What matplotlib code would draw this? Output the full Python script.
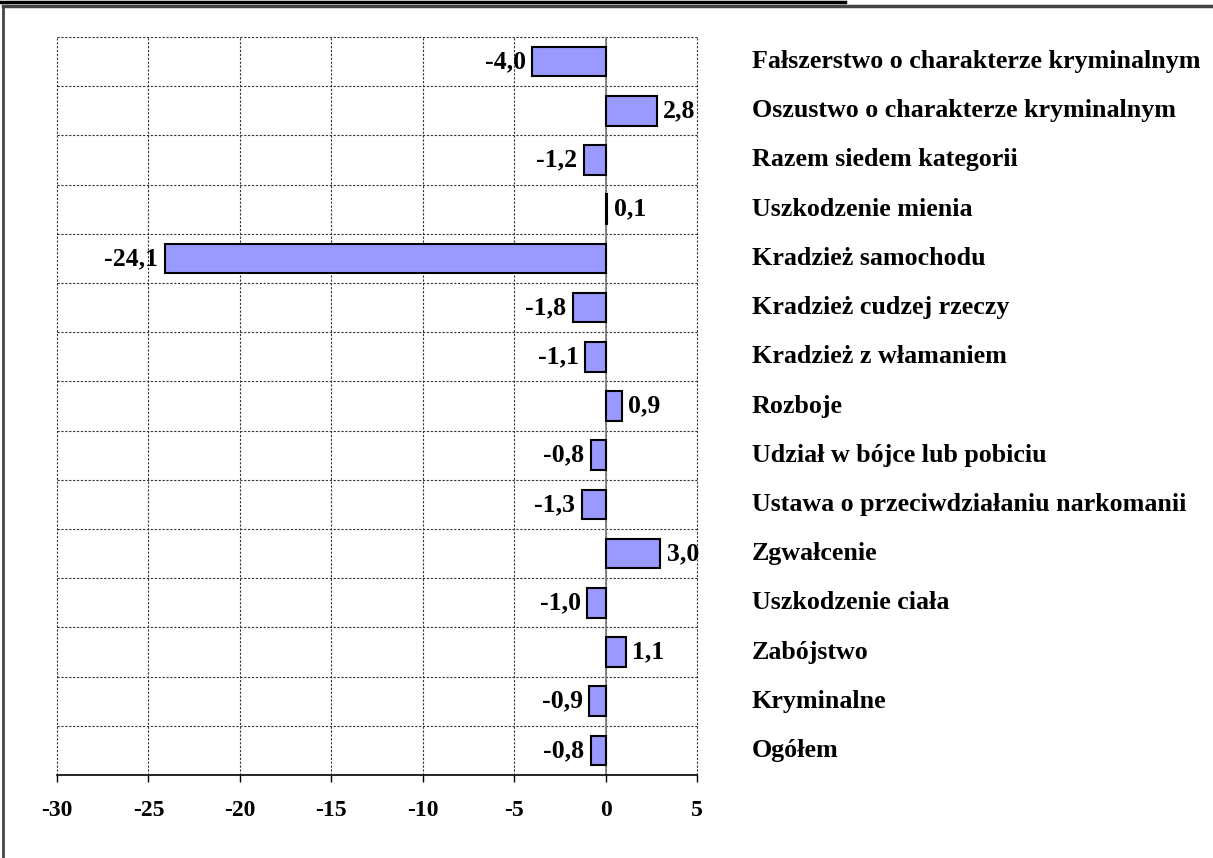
import numpy as np
import matplotlib
matplotlib.use("Agg")
from matplotlib import pyplot as plt
from matplotlib.lines import Line2D
from matplotlib.transforms import blended_transform_factory

plt.rcParams['font.family'] = ['Liberation Serif', 'DejaVu Serif']
plt.rcParams['font.weight'] = 'bold'

# categories, top to bottom
categories = [
    "Fałszerstwo o charakterze kryminalnym",
    "Oszustwo o charakterze kryminalnym",
    "Razem siedem kategorii",
    "Uszkodzenie mienia",
    "Kradzież samochodu",
    "Kradzież cudzej rzeczy",
    "Kradzież z włamaniem",
    "Rozboje",
    "Udział w bójce lub pobiciu",
    "Ustawa o przeciwdziałaniu narkomanii",
    "Zgwałcenie",
    "Uszkodzenie ciała",
    "Zabójstwo",
    "Kryminalne",
    "Ogółem",
]
values = [-4.0, 2.8, -1.2, 0.1, -24.1, -1.8, -1.1, 0.9, -0.8, -1.3, 3.0, -1.0, 1.1, -0.9, -0.8]
xticks = [-30, -25, -20, -15, -10, -5, 0, 5]

W, H = 1213, 858
fig = plt.figure(figsize=(W / 100, H / 100), dpi=100)
ax = fig.add_axes([57 / W, 1 - 775 / H, (697 - 57) / W, (775 - 37) / H])

n = len(categories)
ys = np.arange(n)[::-1]  # first category on top
ax.barh(ys, values, height=0.6, color='#9999FF', edgecolor='black', linewidth=1.5, zorder=3)

ax.set_xlim(-30, 5)
ax.set_ylim(-0.5, n - 0.5)

# grid: dotted lines at every x tick and between categories
ax.set_xticks(xticks)
ax.set_xticklabels([str(t) for t in xticks], fontsize=17, fontweight='bold')
ax.set_yticks([])
ax.tick_params(axis='x', direction='out', length=5, width=1, pad=13)
for t in xticks:
    ax.axvline(t, color='#333333', linestyle=(0, (2, 1.5)), linewidth=0.8, zorder=1, clip_on=False)
for yb in np.arange(1, n + 1) - 0.5:
    ax.axhline(yb, color='#333333', linestyle=(0, (2, 1.5)), linewidth=0.8, zorder=1, clip_on=False)
ax.axvline(0, color='#777777', linewidth=1.2, zorder=2)

for s in ('top', 'left', 'right'):
    ax.spines[s].set_visible(False)
ax.spines['bottom'].set_linewidth(1.2)
ax.spines['bottom'].set_zorder(4)

# value labels
for y, v in zip(ys, values):
    lab = f"{v:.1f}".replace('.', ',')
    if v < 0:
        ax.text(v - 0.35, y, lab, ha='right', va='center', fontsize=18.5, fontweight='bold', zorder=5)
    else:
        ax.text(v + 0.35, y, lab, ha='left', va='center', fontsize=18.5, fontweight='bold', zorder=5)

# category labels on the right
tr = blended_transform_factory(fig.transFigure, ax.transData)
for y, c in zip(ys, categories):
    ax.text(752 / W, y, c, transform=tr, ha='left', va='center', fontsize=18.7, fontweight='bold')

# frame and cut-off title underline
fig.add_artist(Line2D([3 / W, 3 / W], [0, 1 - 6 / H], transform=fig.transFigure, color='#444444', linewidth=2))
fig.add_artist(Line2D([3 / W, 1], [1 - 6 / H, 1 - 6 / H], transform=fig.transFigure, color='#444444', linewidth=2.5))
fig.add_artist(Line2D([0, 845 / W], [1 - 2 / H, 1 - 2 / H], transform=fig.transFigure, color='black', linewidth=2.5))

fig.savefig("out.png", dpi=100)
